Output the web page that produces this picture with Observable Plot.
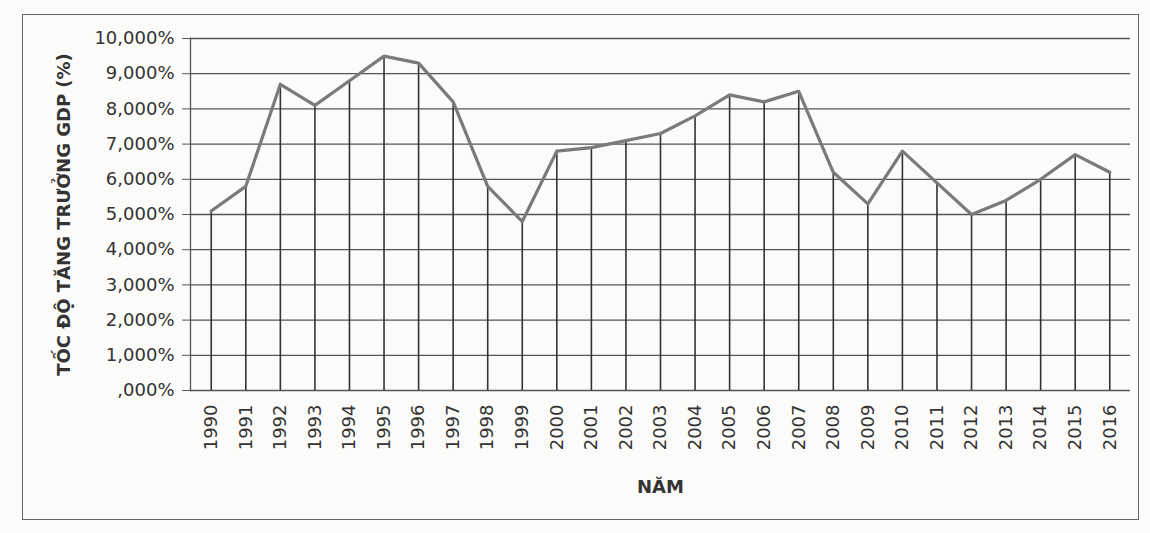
<!DOCTYPE html>
<html>
<head>
<meta charset="utf-8">
<script src="https://cdn.jsdelivr.net/npm/d3@7"></script>
<script src="https://cdn.jsdelivr.net/npm/@observablehq/plot@0.6"></script>
<style>
  html, body { margin: 0; padding: 0; background: #fbfbfa; }
  #wrap { position: relative; width: 1150px; height: 533px; }
  #box { position: absolute; left: 22px; top: 14px; width: 1117px; height: 506px; border: 1.5px solid #666; box-sizing: border-box; }
  #chart { position: absolute; left: 0; top: 0; }
  #chart svg { font-family: "DejaVu Sans", sans-serif; }
</style>
</head>
<body>
<div id="wrap"><div id="box"></div><div id="chart"></div></div>
<script>
const years = ["1990","1991","1992","1993","1994","1995","1996","1997","1998","1999","2000","2001","2002","2003","2004","2005","2006","2007","2008","2009","2010","2011","2012","2013","2014","2015","2016"];
const growth = [5.1, 5.8, 8.7, 8.1, 8.8, 9.5, 9.3, 8.2, 5.8, 4.8, 6.8, 6.9, 7.1, 7.3, 7.8, 8.4, 8.2, 8.5, 6.2, 5.3, 6.8, 5.9, 5.0, 5.4, 6.0, 6.7, 6.2];
const yTicks = [0,1,2,3,4,5,6,7,8,9,10];
const yTitle = "TỐC ĐỘ TĂNG TRƯỞNG GDP (%)";
const xTitle = "NĂM";

const data = years.map((y, i) => ({year: y, value: growth[i]}));

const chart = Plot.plot({
  width: 1150,
  height: 533,
  marginLeft: 190,
  marginRight: 20,
  marginTop: 38,
  marginBottom: 143,
  style: {background: "transparent", color: "#333", fontSize: "18px", fontFamily: "DejaVu Sans, sans-serif"},
  x: {type: "point", domain: years, padding: 0.6, round: false, label: null},
  y: {domain: [0, 10], label: null},
  marks: [
    Plot.gridY(yTicks, {stroke: "#555", strokeOpacity: 1, strokeWidth: 1.3}),
    Plot.frame({anchor: "left", stroke: "#555", strokeWidth: 1.3}),
    Plot.axisY(yTicks, {tickSize: 8, tickPadding: 8, stroke: "#555", fontSize: 18,
      tickFormat: d => (d === 0 ? "" : String(d)) + ",000%"}),
    Plot.axisX({tickSize: 0, tickPadding: 14, tickRotate: -90, fontSize: 18}),
    Plot.ruleX(data, {x: "year", y1: 0, y2: "value", stroke: "#333", strokeWidth: 1.6}),
    Plot.line(data, {x: "year", y: "value", stroke: "#7a7a7a", strokeWidth: 3.2}),
    Plot.text([yTitle], {frameAnchor: "left", dx: -126, rotate: -90, textAnchor: "middle", fontSize: 18, fontWeight: "bold", fill: "#333"}),
    Plot.text([xTitle], {frameAnchor: "bottom", dy: 102, fontSize: 18, fontWeight: "bold", fill: "#333"})
  ]
});
document.getElementById("chart").appendChild(chart);
</script>
</body>
</html>
